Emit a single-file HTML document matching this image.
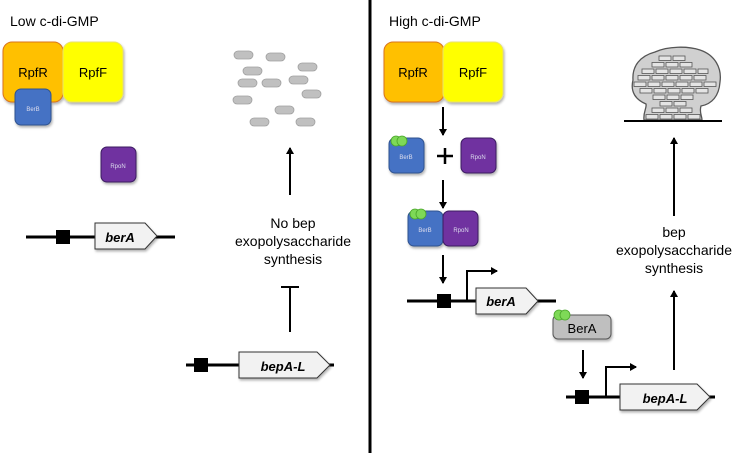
<!DOCTYPE html>
<html><head><meta charset="utf-8"><style>
body{margin:0;background:#fff;}
svg{display:block;font-family:"Liberation Sans",sans-serif;}
</style></head><body>
<svg width="736" height="453" viewBox="0 0 736 453" xmlns="http://www.w3.org/2000/svg">
<defs>
<marker id="ah" markerWidth="8" markerHeight="8" refX="6" refY="4" orient="auto" markerUnits="userSpaceOnUse"><path d="M0,0 L7,4 L0,8 z" fill="#000"/></marker>
<filter id="sh" x="-20%" y="-20%" width="140%" height="150%"><feDropShadow dx="1" dy="2" stdDeviation="1.2" flood-color="#000" flood-opacity="0.3"/></filter>
</defs>
<rect width="736" height="453" fill="#fff"/>
<line x1="370" y1="0" x2="370" y2="453" stroke="#000" stroke-width="3"/>

<!-- LEFT -->
<text x="10" y="26" font-size="14">Low c-di-GMP</text>
<g filter="url(#sh)">
<rect x="3" y="42" width="60" height="60" rx="9" fill="#FFC000" stroke="#d9731c" stroke-width="1"/>
<rect x="63" y="42" width="60" height="60" rx="9" fill="#FFFF00" stroke="#e8e070" stroke-width="1"/>
<rect x="15" y="89" width="36" height="36" rx="6" fill="#4472C4" stroke="#2f528f"/>
<rect x="101" y="147" width="35" height="35" rx="6" fill="#7030A0" stroke="#3a1a60"/>
</g>
<text x="33" y="77" font-size="13" text-anchor="middle">RpfR</text>
<text x="93" y="77" font-size="13" text-anchor="middle">RpfF</text>
<text x="33" y="111" font-size="6" fill="#dde" text-anchor="middle">BerB</text>
<text x="118" y="168" font-size="6" fill="#dde" text-anchor="middle">RpoN</text>

<g fill="#c0c0c0" stroke="#a0a0a0" stroke-width="0.8">
<rect x="234" y="51" width="19" height="8" rx="4"/><rect x="266" y="53" width="19" height="8" rx="4"/>
<rect x="243" y="67" width="19" height="8" rx="4"/><rect x="298" y="63" width="19" height="8" rx="4"/>
<rect x="238" y="79" width="19" height="8" rx="4"/><rect x="262" y="79" width="19" height="8" rx="4"/>
<rect x="289" y="76" width="19" height="8" rx="4"/><rect x="302" y="90" width="19" height="8" rx="4"/>
<rect x="233" y="96" width="19" height="8" rx="4"/><rect x="275" y="106" width="19" height="8" rx="4"/>
<rect x="250" y="118" width="19" height="8" rx="4"/><rect x="296" y="118" width="19" height="8" rx="4"/>
</g>
<line x1="290" y1="195" x2="290" y2="148" stroke="#000" stroke-width="2" marker-end="url(#ah)"/>
<g font-size="14" text-anchor="middle"><text x="293" y="228">No bep</text><text x="293" y="246">exopolysaccharide</text><text x="293" y="264">synthesis</text></g>
<line x1="290" y1="332" x2="290" y2="287" stroke="#000" stroke-width="2"/>
<line x1="281" y1="287" x2="299" y2="287" stroke="#000" stroke-width="2"/>

<line x1="26" y1="237" x2="175" y2="237" stroke="#000" stroke-width="3"/>
<rect x="56" y="230" width="14" height="14" fill="#000"/>
<path d="M95,223 L145,223 L157,236 L145,249 L95,249 z" fill="#f2f2f2" stroke="#333" filter="url(#sh)"/>
<text x="120" y="242" font-size="13" font-weight="bold" font-style="italic" text-anchor="middle">berA</text>

<line x1="186" y1="365" x2="334" y2="365" stroke="#000" stroke-width="3"/>
<rect x="194" y="358" width="14" height="14" fill="#000"/>
<path d="M239,352 L317,352 L330,365 L317,378 L239,378 z" fill="#f2f2f2" stroke="#333" filter="url(#sh)"/>
<text x="283" y="371" font-size="13" font-weight="bold" font-style="italic" text-anchor="middle">bepA-L</text>

<!-- RIGHT -->
<text x="389" y="26" font-size="14">High c-di-GMP</text>
<g filter="url(#sh)">
<rect x="384" y="42" width="60" height="60" rx="9" fill="#FFC000" stroke="#d9731c"/>
<rect x="443" y="42" width="60" height="60" rx="9" fill="#FFFF00" stroke="#e8e070"/>
<rect x="389" y="138" width="35" height="35" rx="6" fill="#4472C4" stroke="#2f528f"/>
<rect x="461" y="138" width="35" height="35" rx="6" fill="#7030A0" stroke="#3a1a60"/>
<rect x="408" y="211" width="35" height="35" rx="6" fill="#4472C4" stroke="#2f528f"/>
<rect x="443" y="211" width="35" height="35" rx="6" fill="#7030A0" stroke="#3a1a60"/>
<rect x="553" y="315" width="58" height="24" rx="5" fill="#bfbfbf" stroke="#555"/>
</g>
<text x="413" y="77" font-size="13" text-anchor="middle">RpfR</text>
<text x="473" y="77" font-size="13" text-anchor="middle">RpfF</text>
<text x="406" y="159" font-size="6" fill="#dde" text-anchor="middle">BerB</text>
<text x="478" y="159" font-size="6" fill="#dde" text-anchor="middle">RpoN</text>
<text x="425" y="232" font-size="6" fill="#dde" text-anchor="middle">BerB</text>
<text x="461" y="232" font-size="6" fill="#dde" text-anchor="middle">RpoN</text>
<text x="582" y="333" font-size="13" text-anchor="middle">BerA</text>
<g fill="#7ed957" stroke="#4aa62a" stroke-width="0.8">
<circle cx="396" cy="141" r="5"/><circle cx="402" cy="141" r="5"/>
<circle cx="415" cy="214" r="5"/><circle cx="421" cy="214" r="5"/>
<circle cx="559" cy="315" r="5"/><circle cx="565" cy="315" r="5"/>
</g>
<line x1="443" y1="107" x2="443" y2="135" stroke="#000" stroke-width="2" marker-end="url(#ah)"/>
<path d="M437,156 H453 M445,148 V164" stroke="#000" stroke-width="2.5"/>
<line x1="443" y1="180" x2="443" y2="208" stroke="#000" stroke-width="2" marker-end="url(#ah)"/>
<line x1="443" y1="255" x2="443" y2="283" stroke="#000" stroke-width="2" marker-end="url(#ah)"/>
<line x1="583" y1="350" x2="583" y2="378" stroke="#000" stroke-width="2" marker-end="url(#ah)"/>

<line x1="407" y1="301" x2="556" y2="301" stroke="#000" stroke-width="3"/>
<rect x="437" y="294" width="14" height="14" fill="#000"/>
<path d="M467,301 V271 H497" fill="none" stroke="#000" stroke-width="2" marker-end="url(#ah)"/>
<path d="M476,288 L526,288 L538,301 L526,314 L476,314 z" fill="#f2f2f2" stroke="#333" filter="url(#sh)"/>
<text x="501" y="306" font-size="13" font-weight="bold" font-style="italic" text-anchor="middle">berA</text>

<line x1="566" y1="397" x2="715" y2="397" stroke="#000" stroke-width="3"/>
<rect x="575" y="390" width="14" height="14" fill="#000"/>
<path d="M606,397 V367 H636" fill="none" stroke="#000" stroke-width="2" marker-end="url(#ah)"/>
<path d="M620,384 L697,384 L710,397 L697,410 L620,410 z" fill="#f2f2f2" stroke="#333" filter="url(#sh)"/>
<text x="665" y="403" font-size="13" font-weight="bold" font-style="italic" text-anchor="middle">bepA-L</text>

<line x1="674" y1="370" x2="674" y2="291" stroke="#000" stroke-width="2" marker-end="url(#ah)"/>
<g font-size="14" text-anchor="middle"><text x="674" y="237">bep</text><text x="674" y="255">exopolysaccharide</text><text x="674" y="273">synthesis</text></g>
<line x1="674" y1="216" x2="674" y2="138" stroke="#000" stroke-width="2" marker-end="url(#ah)"/>

<path d="M644,120 C643,112 647,108 646,104 C636,100 630,92 633,80 C632,66 640,56 655,52 C668,46 688,46 700,50 C715,55 722,68 720,82 C719,96 712,104 701,106 C699,112 702,116 702,120 Z" fill="#d0d0d0" stroke="#555" stroke-width="1.3"/>
<g fill="#e4e4e4" stroke="#555" stroke-width="0.8">
<rect x="659" y="56" width="12" height="4.5"/><rect x="673" y="56" width="12" height="4.5"/>
<rect x="652" y="62.5" width="12" height="4.5"/><rect x="666" y="62.5" width="12" height="4.5"/><rect x="680" y="62.5" width="12" height="4.5"/>
<rect x="642" y="69" width="12" height="4.5"/><rect x="656" y="69" width="12" height="4.5"/><rect x="670" y="69" width="12" height="4.5"/><rect x="684" y="69" width="12" height="4.5"/><rect x="698" y="69" width="10" height="4.5"/>
<rect x="638" y="75.5" width="12" height="4.5"/><rect x="652" y="75.5" width="12" height="4.5"/><rect x="666" y="75.5" width="12" height="4.5"/><rect x="680" y="75.5" width="12" height="4.5"/><rect x="694" y="75.5" width="12" height="4.5"/>
<rect x="634" y="82" width="12" height="4.5"/><rect x="648" y="82" width="12" height="4.5"/><rect x="662" y="82" width="12" height="4.5"/><rect x="676" y="82" width="12" height="4.5"/><rect x="690" y="82" width="12" height="4.5"/><rect x="704" y="82" width="12" height="4.5"/>
<rect x="640" y="88.5" width="12" height="4.5"/><rect x="654" y="88.5" width="12" height="4.5"/><rect x="668" y="88.5" width="12" height="4.5"/><rect x="682" y="88.5" width="12" height="4.5"/><rect x="696" y="88.5" width="12" height="4.5"/>
<rect x="653" y="95" width="12" height="4.5"/><rect x="667" y="95" width="12" height="4.5"/><rect x="681" y="95" width="12" height="4.5"/>
<rect x="660" y="101.5" width="12" height="4.5"/><rect x="674" y="101.5" width="12" height="4.5"/>
<rect x="652" y="108" width="12" height="4.5"/><rect x="666" y="108" width="12" height="4.5"/><rect x="680" y="108" width="12" height="4.5"/>
<rect x="646" y="114.5" width="12" height="4.5"/><rect x="660" y="114.5" width="12" height="4.5"/><rect x="674" y="114.5" width="12" height="4.5"/><rect x="688" y="114.5" width="12" height="4.5"/>
</g>
<line x1="624" y1="121" x2="722" y2="121" stroke="#000" stroke-width="2"/>
</svg>
</body></html>
